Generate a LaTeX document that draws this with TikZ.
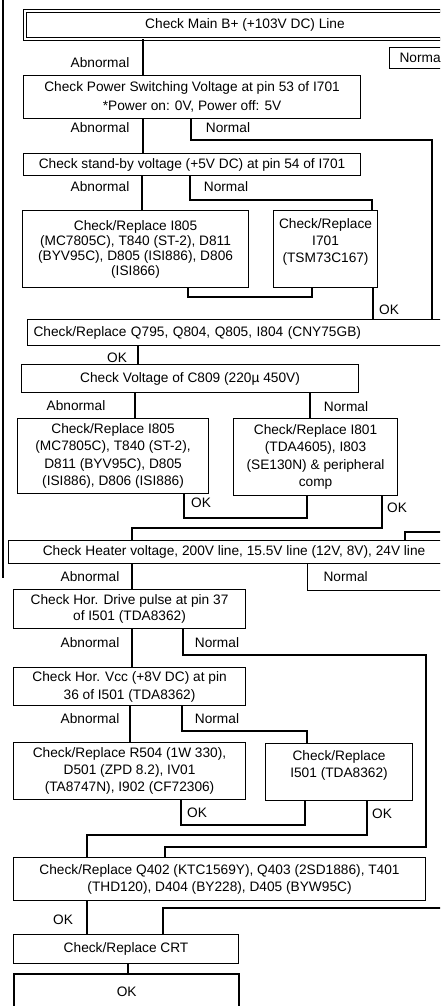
\documentclass[tikz,border=0pt]{standalone}
\usepackage{fontspec}
\setmainfont{Liberation Sans}
\begin{document}
\begin{tikzpicture}[x=1pt,y=-1pt,
  box/.style={draw, line width=1.1pt, inner sep=0pt, anchor=north west, align=center,
    font=\fontsize{13.7}{16}\selectfont},
  lbl/.style={inner sep=0pt, font=\fontsize{13.7}{16}\selectfont},
  conn/.style={line width=1.1pt}]
\useasboundingbox (0,0) rectangle (440,1006);
\fill[white] (0,0) rectangle (440,1006);
\clip (0,0) rectangle (440,1006);

% scan edge line
\draw[line width=1.2pt] (3,0) -- (3,578);

% boxes
\node[box, double, line width=1pt, double distance=2pt, minimum width=440, minimum height=28] (main) at (24.5,10.5) {Check Main B+ (+103V DC) Line};
\node[box, minimum height=21, text width=45, inner xsep=10, align=left] (nrm0) at (389,47) {Normal};
\node[box, minimum width=337, minimum height=43, font=\fontsize{13.7}{19}\selectfont] (pws) at (23,75) {Check Power Switching Voltage at pin 53 of I701\\*Power on: 0V, Power off: 5V};
\node[box, minimum width=337, minimum height=22] (sby) at (23,153) {Check stand-by voltage (+5V DC) at pin 54 of I701};
\node[box, minimum width=226, minimum height=77, font=\fontsize{13.7}{15}\selectfont] (ia) at (22,210) {Check/Replace I805\\(MC7805C), T840 (ST-2), D811\\(BYV95C), D805 (ISI886), D806\\(ISI866)};
\node[box, minimum width=104, minimum height=77, font=\fontsize{13.7}{17}\selectfont] (tsm) at (273,210) {Check/Replace\\I701\\(TSM73C167)\\~};
\node[box, minimum height=26, text width=431, inner xsep=6, align=left] (q795) at (27,319) {Check/Replace Q795, Q804, Q805, I804 (CNY75GB)};
\node[box, minimum width=337, minimum height=28] (c809) at (21,364) {Check Voltage of C809 (220µ 450V)};
\node[box, minimum width=191, minimum height=75, font=\fontsize{13.7}{17.5}\selectfont] (ib) at (17,418) {Check/Replace I805\\(MC7805C), T840 (ST-2),\\D811 (BYV95C), D805\\(ISI886), D806 (ISI886)};
\node[box, minimum width=164, minimum height=77, font=\fontsize{13.7}{17.5}\selectfont] (i801) at (233,418) {Check/Replace I801\\(TDA4605), I803\\(SE130N) \& peripheral\\comp};
\node[box, minimum width=451, minimum height=23] (heat) at (8,540) {Check Heater voltage, 200V line, 15.5V line (12V, 8V), 24V line};
\node[box, minimum height=27, text width=120, inner xsep=16, align=left] (nrm1) at (307,563) {Normal};
\node[box, minimum width=232, minimum height=39] (hdrv) at (13,589) {Check Hor. Drive pulse at pin 37\\of I501 (TDA8362)};
\node[box, minimum width=232, minimum height=38, font=\fontsize{13.7}{18}\selectfont] (hvcc) at (13,667) {Check Hor. Vcc (+8V DC) at pin\\36 of I501 (TDA8362)};
\node[box, minimum width=232, minimum height=57, font=\fontsize{13.7}{17}\selectfont] (r504) at (13,742) {Check/Replace R504 (1W 330),\\D501 (ZPD 8.2), IV01\\(TA8747N), I902 (CF72306)};
\node[box, minimum width=147, minimum height=57, font=\fontsize{13.7}{17}\selectfont] (i501) at (265,743) {Check/Replace\\I501 (TDA8362)\\~};
\node[box, minimum width=412, minimum height=43, font=\fontsize{13.7}{17}\selectfont] (q402) at (13,857) {Check/Replace Q402 (KTC1569Y), Q403 (2SD1886), T401\\(THD120), D404 (BY228), D405 (BYW95C)};
\node[box, minimum width=225, minimum height=29] (crt) at (13,934) {Check/Replace CRT};
\node[box, line width=2.4pt, minimum width=225, minimum height=36] (okend) at (13,973) {OK};

% labels
\node[lbl] (l1) at (100,63) {Abnormal};
\node[lbl] (l2) at (100,128) {Abnormal};
\node[lbl] (l3) at (228,128) {Normal};
\node[lbl] (l4) at (100,187) {Abnormal};
\node[lbl] (l5) at (226,187) {Normal};
\node[lbl] (l6) at (389,310) {OK};
\node[lbl] (l7) at (117,358) {OK};
\node[lbl] (l8) at (76,406) {Abnormal};
\node[lbl] (l9) at (346,407) {Normal};
\node[lbl] (l10) at (201,503) {OK};
\node[lbl] (l11) at (397,508) {OK};
\node[lbl] (l12) at (90,577) {Abnormal};
\node[lbl] (l13) at (90,643) {Abnormal};
\node[lbl] (l14) at (217,643) {Normal};
\node[lbl] (l15) at (90,719) {Abnormal};
\node[lbl] (l16) at (217,719) {Normal};
\node[lbl] (l17) at (197,813) {OK};
\node[lbl] (l18) at (382,814) {OK};
\node[lbl] (l19) at (63,920) {OK};

% free ends
\coordinate (rin1) at (450,532);
\coordinate (rin2) at (450,908);

% connectors
\draw[conn] (main.south -| 143,0) -- (pws.north -| 143,0);
\draw[conn] (pws.south -| 143,0) -- (sby.north -| 143,0);
\draw[conn] (pws.south -| 191,0) |- (432,140) -- (q795.north -| 432,0);
\draw[conn] (sby.south -| 142,0) -- (ia.north -| 142,0);
\draw[conn] (sby.south -| 190,0) |- (372,200) -- (tsm.north -| 372,0);
\draw[conn] (ia.south -| 188,0) |- (312,297) -- (tsm.south -| 312,0);
\draw[conn] (tsm.south -| 373,0) -- (q795.north -| 373,0);
\draw[conn] (q795.south -| 138,0) -- (c809.north -| 138,0);
\draw[conn] (c809.south -| 135,0) -- (ib.north -| 135,0);
\draw[conn] (c809.south -| 310,0) -- (i801.north -| 310,0);
\draw[conn] (ib.south -| 184,0) |- (307,518) -- (i801.south -| 307,0);
\draw[conn] (i801.south -| 382,0) |- (132,528) -- (heat.north -| 132,0);
\draw[conn] (rin1) -| (heat.north -| 405,0);
\draw[conn] (heat.south -| 132,0) -- (hdrv.north -| 132,0);
\draw[conn] (hdrv.south -| 132,0) -- (hvcc.north -| 132,0);
\draw[conn] (hdrv.south -| 183,0) |- (426,655) |- (165,847) -- (q402.north -| 165,0);
\draw[conn] (hvcc.south -| 130,0) -- (r504.north -| 130,0);
\draw[conn] (hvcc.south -| 182,0) |- (307,731) -- (i501.north -| 307,0);
\draw[conn] (r504.south -| 181,0) |- (305,825) -- (i501.south -| 305,0);
\draw[conn] (i501.south -| 367,0) |- (87,835) -- (q402.north -| 87,0);
\draw[conn] (q402.south -| 87,0) -- (crt.north -| 87,0);
\draw[conn] (rin2) -| (crt.north -| 163,0);
\draw[conn] (crt.south -| 128,0) -- (okend.north -| 128,0);
\end{tikzpicture}
\end{document}
